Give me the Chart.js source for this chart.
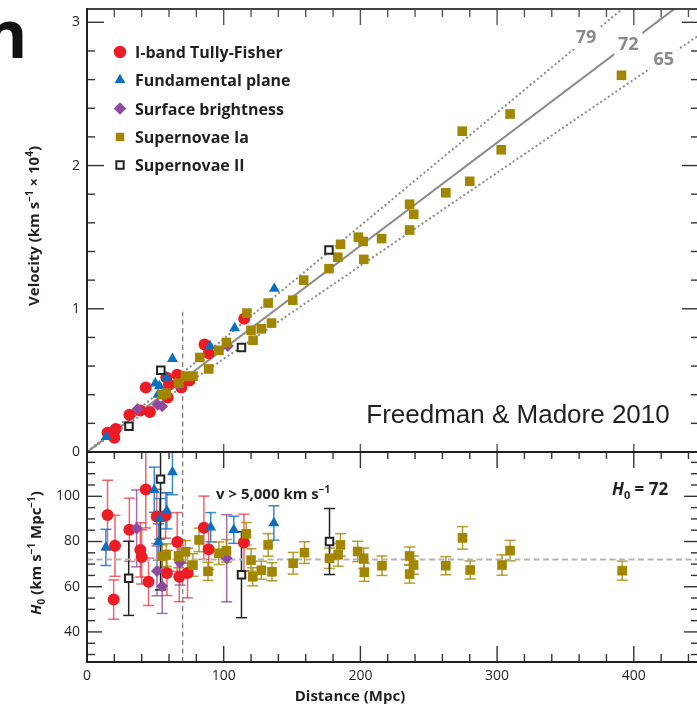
<!DOCTYPE html>
<html>
<head>
<meta charset="utf-8">
<script src="https://cdn.jsdelivr.net/npm/chart.js@4.4.1/dist/chart.umd.min.js"></script>
<style>
html, body { margin: 0; padding: 0; background: #fff; overflow: hidden; width: 697px; height: 710px; position: relative; }
canvas { position: absolute; left: 0; }
#topChart { top: 0; }
#botChart { top: 444px; }
#corner { position: absolute; left: -16px; top: -1px; font: bold 66px "Open Sans", sans-serif; line-height: 66px; color: #111; }
</style>
</head>
<body>
<div id="corner">n</div>
<canvas id="topChart" width="700" height="464"></canvas>
<canvas id="botChart" width="700" height="266"></canvas>
<script>
// ticks
const xTicks = [0, 100, 200, 300, 400];
const velTicks = [0, 1, 2, 3];
const h0Ticks = [40, 60, 80, 100];
const hubbleLines = [79, 72, 65];
const h0Ref = 72;
const vCutDist = 70;   // v > 5,000 km/s

// top panel: distance (Mpc), velocity (x 10^4 km/s)
const tfDist = [15, 20, 21, 31, 39, 43, 46, 58, 59, 60, 66, 69, 75, 86, 89, 115];
const tfVel  = [0.135, 0.10, 0.16, 0.26, 0.29, 0.45, 0.28, 0.52, 0.38, 0.47, 0.54, 0.45, 0.50, 0.75, 0.69, 0.93];
const fpDist = [14, 50, 52, 53, 58, 62.5, 90, 108, 137];
const fpVel  = [0.105, 0.48, 0.40, 0.46, 0.52, 0.65, 0.74, 0.865, 1.14];
const sbfDist = [37, 51.6, 55, 67, 103];
const sbfVel  = [0.30, 0.33, 0.32, 0.47, 0.74];
const sn1aDist = [55, 58, 67, 72, 77.5, 82.5, 89, 96.5, 102, 117, 120, 121.5, 127.5, 132.5, 135, 150.5, 158.5, 177, 183.5, 185.5, 198.5, 202, 202.5, 215.5, 236, 236, 239, 262.5, 274.5, 280, 303, 309.5, 391];
const sn1aVel  = [0.40, 0.41, 0.48, 0.53, 0.53, 0.66, 0.58, 0.71, 0.765, 0.97, 0.85, 0.78, 0.86, 1.04, 0.90, 1.06, 1.20, 1.28, 1.36, 1.45, 1.50, 1.47, 1.345, 1.49, 1.55, 1.73, 1.66, 1.81, 2.24, 1.89, 2.11, 2.36, 2.63];
const sn2Dist = [30.7, 54, 113, 177];
const sn2Vel  = [0.18, 0.57, 0.73, 1.41];

// bottom panel: distance (Mpc), H0 and its error (km/s/Mpc)
const tfH0Dist = [15, 20.5, 19.5, 31, 43, 39, 40, 45, 51, 57.5, 66, 58.5, 67.5, 73.5, 85.5, 89, 114.8];
const tfH0     = [91.7, 78.1, 54.3, 85.2, 103, 76.3, 73.2, 62.2, 91.1, 91.5, 79.8, 66.1, 64.4, 66.1, 86.1, 76.6, 79.6];
const tfH0Err  = [15.4, 13.5, 8.7, 14, 17, 12, 12, 10.5, 12, 10, 13, 10, 11, 11, 14, 9, 12.5];
const fpH0Dist = [13.8, 49.2, 52.3, 53.2, 58.4, 62.5, 90.5, 107.4, 136.7];
const fpH0     = [77.4, 102.9, 79.8, 90, 93.6, 110.7, 86.3, 85.2, 88.2];
const fpH0Err  = [8, 10, 8, 9, 8, 10, 6.5, 6, 7.6];
const sbfH0Dist = [36.3, 51.2, 55, 68, 102.2];
const sbfH0     = [85.8, 67, 60.2, 70.7, 72.6];
const sbfH0Err  = [17, 11, 12, 10, 19.3];
const sn1aH0Dist = [55, 58, 67, 72, 77.5, 82, 88.5, 96.5, 102, 116.5, 120, 121.3, 127.5, 132.5, 135.3, 150.8, 159.1, 177.4, 183.7, 185.4, 198, 202.4, 202.9, 215.8, 236, 236, 238.9, 262.5, 274.7, 280.3, 303.6, 309.5, 391.5];
const sn1aH0     = [73.5, 74, 73.4, 75.4, 69.6, 80.7, 66.8, 74.8, 75.9, 83.4, 71.8, 64.4, 67.3, 78.5, 66.6, 70.4, 75.1, 72.6, 74.1, 78.5, 75.6, 72.6, 66.4, 69.3, 73.6, 65.6, 69.6, 69.3, 81.6, 67.4, 69.6, 76, 67.1];
const sn1aH0Err  = [5, 5, 5, 5, 5, 5.2, 4, 5, 5, 5, 5, 4, 4, 5, 4, 4.8, 4.8, 4.5, 5, 5, 4.5, 4.5, 4, 4.3, 4, 4, 4, 4, 5, 4, 4.5, 4.5, 4.2];
const sn2H0Dist = [30.5, 53.8, 113, 177.4];
const sn2H0     = [63.7, 107.6, 65.3, 80];
const sn2H0Err  = [16.4, 49, 19, 14.6];

const RED = '#ec1c24', BLUE = '#0b6fbf', PURPLE = '#8e4a9f', OLIVE = '#a28600', DARK = '#231f20', GREY = '#8a8a8a';
const FONT = '"Open Sans", "DejaVu Sans", sans-serif';
const XMAX = 447.7;
const VMAX = 3.093;
const HMIN = 26.7, HMAX = 119.6;

function pts(xs, ys) { return xs.map((v, i) => ({ x: v, y: ys[i] })); }

const styles = [
  { label: 'I-band Tully-Fisher', pointStyle: 'circle', pointRadius: 6, backgroundColor: RED, borderColor: RED, borderWidth: 0, order: 5, errColor: 'rgba(236,34,46,0.7)' },
  { label: 'Fundamental plane', pointStyle: 'triangle', pointRadius: 6.3, backgroundColor: BLUE, borderColor: BLUE, borderWidth: 0, order: 4, errColor: 'rgba(20,118,196,0.85)' },
  { label: 'Surface brightness', pointStyle: 'rectRot', pointRadius: 6, backgroundColor: PURPLE, borderColor: PURPLE, borderWidth: 0, order: 3, errColor: 'rgba(142,74,159,0.8)' },
  { label: 'Supernovae Ia', pointStyle: 'rect', pointRadius: 6.8, backgroundColor: OLIVE, borderColor: OLIVE, borderWidth: 0, order: 2, errColor: 'rgba(162,134,0,0.8)' },
  { label: 'Supernovae II', pointStyle: 'rect', pointRadius: 5.3, backgroundColor: '#ffffff', borderColor: '#222', borderWidth: 2, order: 1, errColor: '#222' }
];

function series(i, xs, ys, errs) {
  const s = styles[i];
  return Object.assign({}, s, { data: pts(xs, ys), errors: errs, pointHoverRadius: s.pointRadius });
}

function drawRich(ctx, parts, x, y, align) {
  let w = 0;
  parts.forEach(p => { ctx.font = p[1]; w += ctx.measureText(p[0]).width; });
  let cx = align === 'center' ? x - w / 2 : x;
  ctx.textAlign = 'left';
  ctx.textBaseline = 'alphabetic';
  parts.forEach(p => {
    ctx.font = p[1];
    ctx.fillText(p[0], cx, y + (p[2] || 0));
    cx += ctx.measureText(p[0]).width;
  });
}

function seg(ctx, x1, y1, x2, y2) {
  ctx.beginPath(); ctx.moveTo(x1, y1); ctx.lineTo(x2, y2); ctx.stroke();
}

function marker(ctx, s, x, y, r) {
  ctx.fillStyle = s.backgroundColor;
  ctx.strokeStyle = s.borderColor;
  ctx.lineWidth = s.borderWidth;
  ctx.beginPath();
  if (s.pointStyle === 'circle') ctx.arc(x, y, r, 0, Math.PI * 2);
  else if (s.pointStyle === 'triangle') {
    ctx.moveTo(x, y - r); ctx.lineTo(x + r * 0.866, y + r * 0.5); ctx.lineTo(x - r * 0.866, y + r * 0.5); ctx.closePath();
  } else if (s.pointStyle === 'rectRot') {
    ctx.moveTo(x, y - r); ctx.lineTo(x + r, y); ctx.lineTo(x, y + r); ctx.lineTo(x - r, y); ctx.closePath();
  } else {
    const h = r * Math.SQRT1_2; ctx.rect(x - h, y - h, 2 * h, 2 * h);
  }
  ctx.fill();
  if (s.borderWidth) ctx.stroke();
}

// scale sizes fixed so both panels share the same plot box
function fixY(s) { s.width = 87; s.paddingTop = 0; s.paddingBottom = 0; s.paddingLeft = 0; s.paddingRight = 0; }
function fixX(s) { s.height = 48; s.paddingLeft = 0; s.paddingRight = 0; s.paddingTop = 0; s.paddingBottom = 0; }
function fixHidden(s) { s.paddingLeft = 0; s.paddingRight = 0; s.paddingTop = 0; s.paddingBottom = 0; }

const noGrid = { display: false, drawTicks: false };
const tickFont = { family: FONT, size: 14 };

// ---------- top panel ----------
const topDecor = {
  id: 'topDecor',
  afterDatasetsDraw(chart) {
    const { ctx, scales: { x, y } } = chart;
    const at = { 79: 365, 72: 396, 65: 422 };
    ctx.save();
    hubbleLines.forEach(h => {
      const px = x.getPixelForValue(at[h]);
      const py = y.getPixelForValue(h * at[h] / 1e4) - (h === 79 ? 2 : 0);
      ctx.fillStyle = '#fff';
      ctx.fillRect(px - 14, py - 12, 28, 24);
      ctx.fillStyle = GREY;
      ctx.font = 'bold 18px ' + FONT;
      ctx.textAlign = 'center';
      ctx.textBaseline = 'middle';
      ctx.fillText(String(h), px, py + 1);
    });
    ctx.restore();
  },
  afterDraw(chart) {
    const { ctx, chartArea: a, scales: { x, y } } = chart;
    ctx.save();
    ctx.strokeStyle = '#333';
    ctx.lineWidth = 1.4;
    for (let k = 0; k <= 15; k++) {
      const v = k * 0.2;
      const py = y.getPixelForValue(v);
      const L = k % 5 === 0 ? 17 : 8;
      seg(ctx, a.left, py, a.left + L, py);
      seg(ctx, a.right - L, py, a.right, py);
    }
    ctx.strokeStyle = '#555';
    for (let d = 20; d <= XMAX; d += 20) {
      const px = x.getPixelForValue(d);
      const major = d % 100 === 0;
      seg(ctx, px, a.top, px, a.top + (major ? 16 : 8));
      if (major) seg(ctx, px, a.bottom - 8, px, a.bottom);
    }
    ctx.lineWidth = 2;
    ctx.strokeStyle = '#444';
    seg(ctx, a.left, a.top, a.right, a.top);
    ctx.strokeStyle = DARK;
    seg(ctx, a.left, a.top - 1, a.left, a.bottom + 1);
    seg(ctx, a.left, a.bottom, a.right, a.bottom);

    // legend
    const rows = [52, 80, 108.5, 137, 165];
    const mr = [6.2, 6.2, 6.2, 6, 5.2];
    styles.forEach((s, i) => {
      marker(ctx, s, 120, rows[i], mr[i]);
      ctx.fillStyle = DARK;
      ctx.font = 'bold 16px ' + FONT;
      ctx.textAlign = 'left';
      ctx.textBaseline = 'alphabetic';
      ctx.fillText(s.label, 135, rows[i] + 6);
    });

    ctx.fillStyle = DARK;
    ctx.font = '26px "Liberation Sans", Arial, sans-serif';
    ctx.textAlign = 'center';
    ctx.textBaseline = 'alphabetic';
    ctx.fillText('Freedman & Madore 2010', 518, 423);

    // y title
    ctx.translate(34, 226);
    ctx.rotate(-Math.PI / 2);
    const b = 'bold 15px ' + FONT, s = 'bold 10px ' + FONT;
    drawRich(ctx, [['Velocity (km s', b], ['\u22121', s, -6], [' \u00d7 10', b], ['4', s, -6], [')', b]], 0, 5, 'center');
    ctx.restore();
  }
};

const topDatasets = [
  series(0, tfDist, tfVel),
  series(1, fpDist, fpVel),
  series(2, sbfDist, sbfVel),
  series(3, sn1aDist, sn1aVel),
  series(4, sn2Dist, sn2Vel)
];
hubbleLines.forEach(h => {
  topDatasets.push({
    type: 'line', data: [{ x: 0, y: 0 }, { x: XMAX, y: h * XMAX / 1e4 }], showLine: true,
    borderColor: GREY, borderWidth: 2, borderDash: h === h0Ref ? [] : [2, 2.6],
    pointRadius: 0, pointHoverRadius: 0, fill: false, order: 10
  });
});
topDatasets.push({
  type: 'line', data: [{ x: vCutDist, y: 0 }, { x: vCutDist, y: 0.98 }], showLine: true,
  borderColor: '#777', borderWidth: 1.2, borderDash: [5, 3.5], pointRadius: 0, fill: false, order: 11
});

new Chart(document.getElementById('topChart'), {
  type: 'scatter',
  data: { datasets: topDatasets },
  options: {
    responsive: false, animation: false, events: [],
    layout: { autoPadding: false, padding: { top: 9, right: 1, bottom: 12, left: 0 } },
    plugins: { legend: { display: false }, tooltip: { enabled: false } },
    scales: {
      x: { type: 'linear', min: 0, max: XMAX, display: false, afterFit: fixHidden },
      y: {
        type: 'linear', min: 0, max: VMAX,
        afterFit: fixY,
        afterBuildTicks(s) { s.ticks = velTicks.map(v => ({ value: v })); },
        grid: noGrid, border: { display: false },
        ticks: { font: tickFont, color: DARK, padding: 7 }
      }
    }
  },
  plugins: [topDecor]
});

// ---------- bottom panel ----------
const botDecor = {
  id: 'botDecor',
  beforeDatasetsDraw(chart) {
    const { ctx, chartArea: a, scales: { y } } = chart;
    ctx.save();
    ctx.beginPath(); ctx.rect(a.left, a.top, a.width, a.height); ctx.clip();
    ctx.lineWidth = 1.5;
    chart.data.datasets.forEach((ds, i) => {
      if (!ds.errors) return;
      const meta = chart.getDatasetMeta(i);
      ctx.strokeStyle = ds.errColor;
      ds.data.forEach((p, j) => {
        const px = meta.data[j].x;
        const t = y.getPixelForValue(p.y + ds.errors[j]);
        const bt = y.getPixelForValue(p.y - ds.errors[j]);
        seg(ctx, px, t, px, bt);
        seg(ctx, px - 5.5, t, px + 5.5, t);
        seg(ctx, px - 5.5, bt, px + 5.5, bt);
      });
    });
    ctx.restore();
  },
  afterDraw(chart) {
    const { ctx, chartArea: a, scales: { x, y } } = chart;
    ctx.save();
    ctx.strokeStyle = '#333';
    ctx.lineWidth = 1.4;
    for (let v = 30; v <= 115; v += 5) {
      const py = y.getPixelForValue(v);
      const L = v % 20 === 0 ? 15 : 8;
      seg(ctx, a.left, py, a.left + L, py);
      seg(ctx, a.right - L, py, a.right, py);
    }
    for (let d = 20; d <= XMAX; d += 20) {
      const px = x.getPixelForValue(d);
      const major = d % 100 === 0;
      seg(ctx, px, a.top, px, a.top + (major ? 16 : 7));
      seg(ctx, px, a.bottom - (major ? 16 : 8), px, a.bottom);
    }
    ctx.lineWidth = 2;
    ctx.strokeStyle = DARK;
    seg(ctx, a.left, a.top, a.right, a.top);
    seg(ctx, a.left, a.top - 1, a.left, a.bottom + 1);
    seg(ctx, a.left, a.bottom, a.right, a.bottom);

    ctx.fillStyle = DARK;
    const b = 'bold 15px ' + FONT, s = 'bold 10px ' + FONT;
    drawRich(ctx, [['v > 5,000 km s', b], ['\u22121', s, -6]], 216, 55);
    drawRich(ctx, [['H', 'italic bold 17px ' + FONT], ['0', 'bold 11px ' + FONT, 4], [' = 72', 'bold 17px ' + FONT]], 612, 51);

    ctx.font = 'bold 15px ' + FONT;
    ctx.textAlign = 'center';
    ctx.textBaseline = 'middle';
    ctx.fillText('Distance (Mpc)', 350, 253);

    ctx.translate(36, 109);
    ctx.rotate(-Math.PI / 2);
    drawRich(ctx, [['H', 'italic bold 15px ' + FONT], ['0', s, 4], [' (km s', b], ['\u22121', s, -6], [' Mpc', b], ['\u22121', s, -6], [')', b]], 0, 5, 'center');
    ctx.restore();
  }
};

const botDatasets = [
  series(0, tfH0Dist, tfH0, tfH0Err),
  series(1, fpH0Dist, fpH0, fpH0Err),
  series(2, sbfH0Dist, sbfH0, sbfH0Err),
  series(3, sn1aH0Dist, sn1aH0, sn1aH0Err),
  series(4, sn2H0Dist, sn2H0, sn2H0Err),
  {
    type: 'line', data: [{ x: 0, y: h0Ref }, { x: XMAX, y: h0Ref }], showLine: true,
    borderColor: '#b3b3b3', borderWidth: 2, borderDash: [6, 3.5], pointRadius: 0, fill: false, order: 10
  },
  {
    type: 'line', data: [{ x: vCutDist, y: HMIN }, { x: vCutDist, y: HMAX }], showLine: true,
    borderColor: '#777', borderWidth: 1.2, borderDash: [5, 3.5], pointRadius: 0, fill: false, order: 11
  }
];

new Chart(document.getElementById('botChart'), {
  type: 'scatter',
  data: { datasets: botDatasets },
  options: {
    responsive: false, animation: false, events: [],
    layout: { autoPadding: false, padding: { top: 8, right: 1, bottom: 0, left: 0 } },
    plugins: { legend: { display: false }, tooltip: { enabled: false } },
    scales: {
      x: {
        type: 'linear', min: 0, max: XMAX,
        afterFit: fixX,
        afterBuildTicks(s) { s.ticks = xTicks.map(v => ({ value: v })); },
        grid: noGrid, border: { display: false },
        ticks: { font: tickFont, color: DARK, padding: 6, autoSkip: false, maxRotation: 0 }
      },
      y: {
        type: 'linear', min: HMIN, max: HMAX,
        afterFit: fixY,
        afterBuildTicks(s) { s.ticks = h0Ticks.map(v => ({ value: v })); },
        grid: noGrid, border: { display: false },
        ticks: { font: tickFont, color: DARK, padding: 7 }
      }
    }
  },
  plugins: [botDecor]
});
</script>
</body>
</html>
